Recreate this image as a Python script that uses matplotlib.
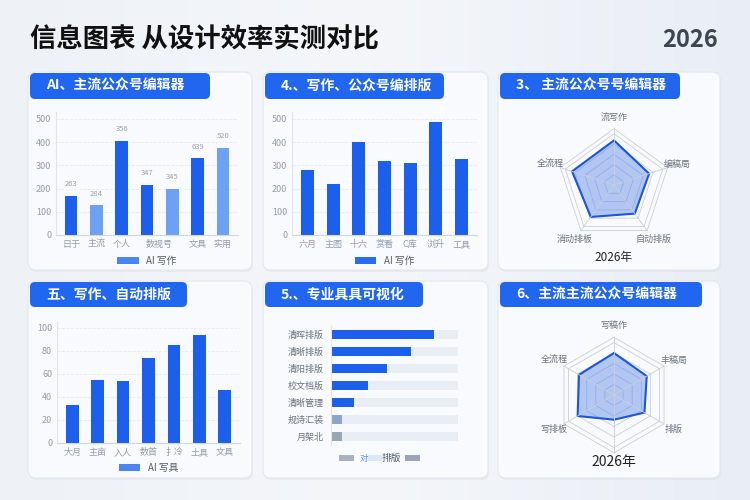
import numpy as np
import matplotlib
matplotlib.use("Agg")
import matplotlib.pyplot as plt
from matplotlib.patches import FancyBboxPatch, Rectangle, Polygon

plt.rcParams['font.family'] = ['Noto Sans CJK SC', 'DejaVu Sans']

# ---- data ----
title = "信息图表 从设计效率实测对比"
year = "2026"

p1_cats = ["日于", "主流", "个人", "数视号", "", "文具", "实用"]
p1_vals = [170, 128, 405, 215, 200, 330, 375]
p1_labels = ["263", "284", "356", "347", "345", "639", "520"]
p1_light = [False, True, False, False, True, False, True]

p2_cats = ["六月", "主图", "十六", "赏看", "C库", "浏升", "工具"]
p2_vals = [280, 218, 400, 320, 312, 487, 327]

p3_axes = ["流写作", "编稿局", "自动排版", "消动排板", "全流程"]
p3_vals = [0.87, 0.72, 0.69, 0.77, 0.86]

p4_cats = ["大月", "主亩", "入人", "数首", "扌冷", "土具", "文具"]
p4_vals = [33, 55, 54, 74, 85, 94, 46]

p5_cats = ["清晖排版", "清晰排版", "清阳排版", "校文档版", "清晰管理", "规诗汇装", "月架北"]
p5_vals = [0.81, 0.63, 0.44, 0.29, 0.18, 0.09, 0.085]

p6_axes = ["写稿作", "丰稿局", "排版", "", "写排板", "全流程"]
p6_vals = [0.80, 0.72, 0.67, 0.47, 0.80, 0.77]

W, H = 750, 500
BLUE = "#1c5fec"
LIGHT = "#6da1f3"
GRAY = "#949cab"

fig = plt.figure(figsize=(7.5, 5), dpi=100)

bg = fig.add_axes([0, 0, 1, 1])
bg.set_xlim(0, W)
bg.set_ylim(H, 0)
bg.axis("off")
grad = np.linspace(0, 1, 256).reshape(1, -1)
bg.imshow(np.vstack([grad, grad]), extent=[0, W, H, 0], aspect="auto",
          cmap=matplotlib.colors.LinearSegmentedColormap.from_list("g", ["#eef2f7", "#f4f6fa", "#e9eef5"]))

bg.text(30, 40, title, fontsize=19, fontweight="bold", color="#111111", va="center")
bg.text(718, 40, year, fontsize=17, fontweight="bold", color="#3d4452", va="center", ha="right")

cards = [(28, 72, 252, 270), (263, 72, 488, 270), (498, 72, 720, 270),
         (28, 281, 252, 478), (263, 281, 488, 478), (498, 281, 720, 478)]
headers = [(30, 73, 210, 99, "AI、主流公众号编辑器"),
           (265, 73, 444, 99, "4.、写作、公众号编排版"),
           (500, 73, 680, 99, "3、 主流公众号号编辑器"),
           (30, 282, 187, 307, "五、写作、自动排版"),
           (265, 282, 423, 307, "5.、专业具具可视化"),
           (500, 282, 702, 307, "6、主流主流公众号编辑器")]

for x0, y0, x1, y1 in cards:
    bg.add_patch(FancyBboxPatch((x0 + 1, y0 + 2), x1 - x0, y1 - y0,
                                boxstyle="round,pad=0,rounding_size=8",
                                fc="#dde3ec", ec="none", alpha=0.6))
    bg.add_patch(FancyBboxPatch((x0, y0), x1 - x0, y1 - y0,
                                boxstyle="round,pad=0,rounding_size=8",
                                fc="#f8fafd", ec="#e4e9f1", lw=0.8))
for x0, y0, x1, y1, t in headers:
    bg.add_patch(FancyBboxPatch((x0, y0), x1 - x0, y1 - y0,
                                boxstyle="round,pad=0,rounding_size=5",
                                fc="#2166ee", ec="none"))
    bg.text(x0 + 16, (y0 + y1) / 2, t, fontsize=10, fontweight="bold",
            color="white", va="center")


def px_axes(x0, y0, x1, y1, **kw):
    return fig.add_axes([x0 / W, 1 - y1 / H, (x1 - x0) / W, (y1 - y0) / H], **kw)


def style_bar_axes(ax):
    for s in ["top", "right"]:
        ax.spines[s].set_visible(False)
    ax.spines["left"].set_color("#e1e6ee")
    ax.spines["bottom"].set_color("#cfd7e3")
    ax.tick_params(length=0, colors=GRAY, labelsize=6.5)
    ax.grid(axis="y", ls="--", color="#e6ebf2", lw=0.6)
    ax.set_axisbelow(True)
    ax.set_facecolor("none")


def legend_patch(ax, label, color, y=-0.1):
    h = Rectangle((0, 0), 1, 1, fc=color)
    ax.legend([h], [label], loc="upper center", bbox_to_anchor=(0.5, y), frameon=False,
              fontsize=7, handlelength=2.2, handleheight=0.7, labelcolor="#555c68")


# panel 1
ax = px_axes(56, 112, 238, 235)
x = np.arange(len(p1_vals))
cols = [LIGHT if l else BLUE for l in p1_light]
ax.bar(x, p1_vals, width=0.5, color=cols)
for xi, v, lab in zip(x, p1_vals, p1_labels):
    ax.annotate(lab, (xi, v), xytext=(0, 7), textcoords="offset points",
                ha="center", fontsize=5.5, color="#9aa2ae")
ax.set_ylim(0, 530)
ax.set_yticks([0, 100, 200, 300, 400, 500])
ax.set_xticks([0, 1, 2, 3.5, 5, 6])
ax.set_xticklabels([c for c in p1_cats if c])
ax.set_xlim(-0.6, 6.6)
style_bar_axes(ax)
legend_patch(ax, "AI 写作", "#4b86f0")

# panel 2
ax = px_axes(292, 112, 477, 235)
x = np.arange(len(p2_vals))
ax.bar(x, p2_vals, width=0.5, color=BLUE)
ax.set_ylim(0, 530)
ax.set_yticks([0, 100, 200, 300, 400, 500])
ax.set_xticks(x)
ax.set_xticklabels(p2_cats)
ax.set_xlim(-0.6, 6.6)
style_bar_axes(ax)
legend_patch(ax, "AI 写作", "#2a6cf0")

# panel 4
ax = px_axes(57, 322, 240, 443)
x = np.arange(len(p4_vals))
ax.bar(x, p4_vals, width=0.5, color=BLUE)
ax.set_ylim(0, 105)
ax.set_yticks([0, 20, 40, 60, 80, 100])
ax.set_xticks(x)
ax.set_xticklabels(p4_cats)
ax.set_xlim(-0.6, 6.6)
style_bar_axes(ax)
legend_patch(ax, "AI 写具", "#4b86f0", y=-0.09)

# panel 5
ax = px_axes(331, 326, 458, 445)
y = np.arange(len(p5_vals))
bar_cols = [BLUE] * 5 + ["#8ea6c9", "#9ba5b4"]
ax.barh(y, [1] * len(y), height=0.48, color="#e9edf4")
ax.barh(y, p5_vals, height=0.48, color=bar_cols)
ax.set_ylim(len(y) - 0.5, -0.5)
ax.set_xlim(0, 1)
ax.set_yticks(y)
ax.set_yticklabels(p5_cats)
ax.set_xticks([])
for s in ["top", "right", "bottom"]:
    ax.spines[s].set_visible(False)
ax.spines["left"].set_color("#e1e6ee")
ax.tick_params(length=0, colors="#6b7380", labelsize=6.5, pad=5)
ax.set_facecolor("none")
bg.add_patch(Rectangle((339, 455), 15, 6, fc="#a9b2bf"))
bg.text(360, 458, "对", fontsize=6, color="#5b8df0", va="center")
bg.add_patch(Rectangle((368, 455), 14, 6, fc="#dde6f5"))
bg.text(382, 458, "排版", fontsize=7, color="#555c68", va="center")
bg.add_patch(Rectangle((405, 455), 15, 6, fc="#9aa5b6"))


def radar(ax, vals, labels, nrings=5, label_r=1.3):
    n = len(vals)
    ang = np.pi / 2 - np.arange(n) * 2 * np.pi / n
    for r in list(np.linspace(1.0 / nrings, 1.0, nrings)) + [1.1]:
        ax.add_patch(Polygon(np.c_[r * np.cos(ang), r * np.sin(ang)], closed=True,
                             fill=False, ec="#c9cfd9", lw=0.6))
    for a in ang:
        ax.plot([0, 1.1 * np.cos(a)], [0, 1.1 * np.sin(a)], color="#c9cfd9", lw=0.6)
    v = np.array(vals)
    ax.add_patch(Polygon(np.c_[v * np.cos(ang), v * np.sin(ang)], closed=True,
                         fc="#5d87e8", alpha=0.45, ec="none"))
    ax.add_patch(Polygon(np.c_[v * np.cos(ang), v * np.sin(ang)], closed=True,
                         fill=False, ec="#1a55dc", lw=1.5))
    for a, lab in zip(ang, labels):
        ax.text(label_r * np.cos(a), label_r * np.sin(a), lab, ha="center",
                va="center", fontsize=6.5, color="#6b7380")
    ax.set_xlim(-1.6, 1.6)
    ax.set_ylim(-1.6, 1.6)
    ax.set_aspect("equal")
    ax.axis("off")


# panel 3
ax = px_axes(614 - 82, 185 - 82, 614 + 82, 185 + 82)
radar(ax, p3_vals, p3_axes, label_r=1.3)
bg.text(614, 258, "2026年", ha="center", va="center", fontsize=8.5, color="#222222")

# panel 6
ax = px_axes(614 - 84, 395 - 84, 614 + 84, 395 + 84)
radar(ax, p6_vals, p6_axes, label_r=1.32)
bg.text(614, 462, "2026年", ha="center", va="center", fontsize=10, color="#222222")

fig.savefig("out.png", dpi=100)
